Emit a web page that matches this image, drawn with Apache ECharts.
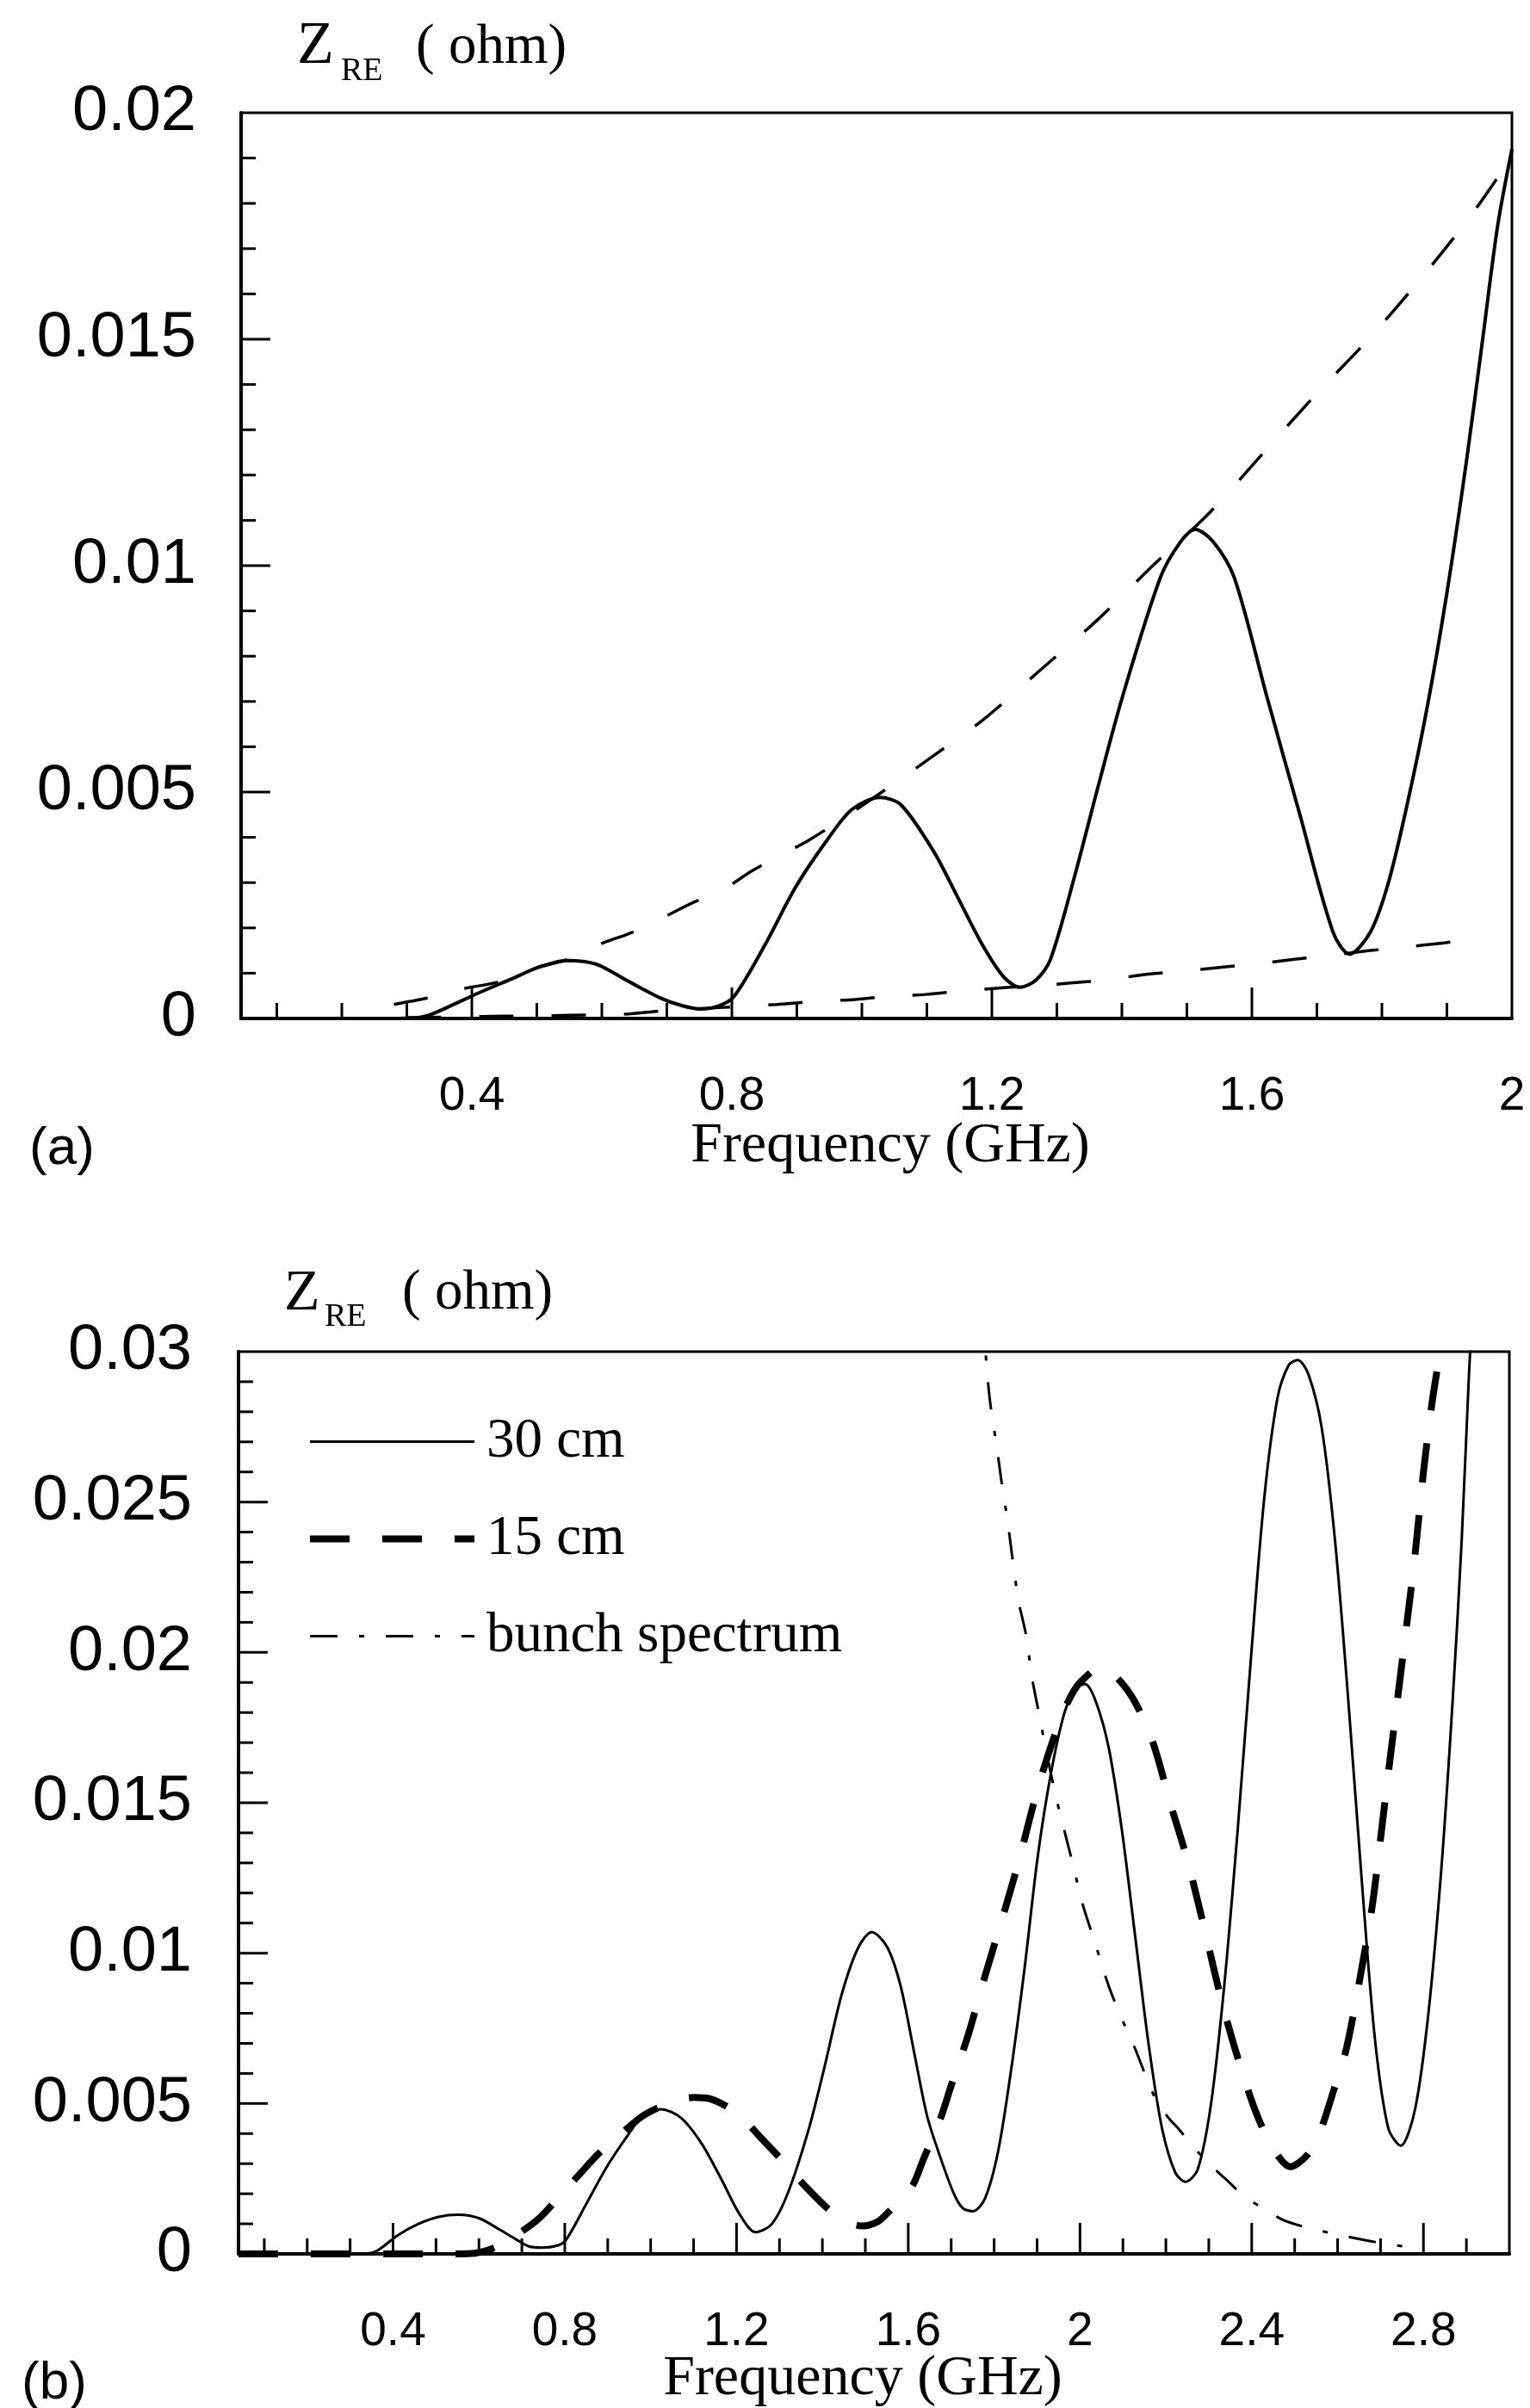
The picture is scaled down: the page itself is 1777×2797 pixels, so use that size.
<!DOCTYPE html>
<html>
<head>
<meta charset="utf-8">
<script src="https://cdn.jsdelivr.net/npm/echarts@6/dist/echarts.min.js"></script>
<style>
html,body{margin:0;padding:0;background:#fff;}
#chart{width:1777px;height:2797px;}
</style>
</head>
<body>
<div id="chart"></div>
<script>
// ---------- tick labels ----------
const xMajorA = [0.4, 0.8, 1.2, 1.6, 2];
const xMinorA = [0.1,0.2,0.3,0.5,0.6,0.7,0.9,1.0,1.1,1.3,1.4,1.5,1.7,1.8,1.9];
const xMajorB = [0.4, 0.8, 1.2, 1.6, 2, 2.4, 2.8];
const xMinorB = [0.1,0.2,0.3,0.5,0.6,0.7,0.9,1.0,1.1,1.3,1.4,1.5,1.7,1.8,1.9,2.1,2.2,2.3,2.5,2.6,2.7,2.9];
const yMajorA = [0, 0.005, 0.01, 0.015, 0.02];
const yMajorB = [0, 0.005, 0.01, 0.015, 0.02, 0.025, 0.03];
const yMinorStep = 0.001;

// ---------- panel (a): frequency (GHz), Z_RE (ohm) ----------
const zA30 = [[0.045,0],[0.25,0],[0.31,0.00001],[0.335,0.00008],[0.363,0.00025],[0.413,0.00058],[0.464,0.00089],[0.502,0.00113],[0.546,0.00128],[0.591,0.0012],[0.641,0.00082],[0.692,0.00044],[0.724,0.00028],[0.752,0.00021],[0.78,0.00028],[0.803,0.00048],[0.85,0.0016],[0.898,0.0029],[0.947,0.00395],[0.985,0.00462],[1.028,0.00488],[1.06,0.00472],[1.11,0.0037],[1.148,0.00266],[1.186,0.00161],[1.218,0.00092],[1.243,0.00069],[1.268,0.00085],[1.29,0.0013],[1.328,0.00318],[1.363,0.0051],[1.401,0.00711],[1.459,0.00973],[1.49,0.01052],[1.513,0.0108],[1.541,0.01052],[1.573,0.00973],[1.623,0.00711],[1.674,0.00449],[1.725,0.0019],[1.75,0.00142],[1.782,0.0019],[1.81,0.003],[1.84,0.0048],[1.87,0.0069],[1.9,0.0094],[1.93,0.0123],[1.955,0.015],[1.978,0.0175],[2.0,0.0192]];
const envUpperA = [[0.28,0.00031],[0.331,0.00045],[0.388,0.00066],[0.439,0.0008],[0.5,0.00112],[0.546,0.0013],[0.597,0.00164],[0.648,0.00191],[0.692,0.00221],[0.736,0.00253],[0.787,0.00285],[0.831,0.00326],[0.876,0.00361],[0.92,0.00395],[0.99,0.0046],[1.059,0.00528],[1.11,0.0058],[1.186,0.00659],[1.275,0.0077],[1.363,0.00881],[1.452,0.01006],[1.535,0.01117],[1.617,0.01248],[1.699,0.01379],[1.782,0.01504],[1.864,0.01641],[1.94,0.01779],[1.997,0.01897]];
const envLowerA = [[0.3,0.00002],[0.45,0.00005],[0.55,0.00007],[0.641,0.0001],[0.692,0.00017],[0.78,0.00024],[0.869,0.00031],[0.92,0.00037],[0.99,0.00042],[1.04,0.00049],[1.098,0.00053],[1.148,0.0006],[1.218,0.00068],[1.268,0.00072],[1.325,0.00079],[1.376,0.00085],[1.44,0.00098],[1.49,0.00104],[1.553,0.00113],[1.604,0.0012],[1.668,0.00131],[1.718,0.00139],[1.782,0.0015],[1.832,0.00157],[1.896,0.00167],[1.953,0.00177]];

// ---------- panel (b) ----------
const zB30 = [[0.04,0],[0.2,0],[0.33,0.00001],[0.362,0.0001],[0.41,0.00061],[0.458,0.00099],[0.506,0.00123],[0.553,0.0013],[0.601,0.00118],[0.649,0.0008],[0.688,0.00047],[0.716,0.00025],[0.745,0.00021],[0.783,0.00028],[0.803,0.00047],[0.85,0.00166],[0.898,0.0029],[0.947,0.00395],[0.985,0.00464],[1.023,0.00481],[1.071,0.00452],[1.119,0.00366],[1.167,0.00242],[1.205,0.00137],[1.244,0.00072],[1.282,0.00099],[1.32,0.00204],[1.368,0.00414],[1.407,0.00634],[1.445,0.00863],[1.483,0.01017],[1.515,0.0107],[1.551,0.0102],[1.582,0.00892],[1.613,0.00675],[1.644,0.00458],[1.675,0.0032],[1.706,0.00201],[1.727,0.00152],[1.75,0.00142],[1.778,0.00182],[1.809,0.00339],[1.84,0.00616],[1.871,0.00951],[1.902,0.01326],[1.933,0.01603],[1.964,0.018],[1.99,0.01879],[2.011,0.01895],[2.036,0.0184],[2.067,0.01682],[2.098,0.01405],[2.129,0.0105],[2.16,0.00695],[2.191,0.00418],[2.222,0.0027],[2.246,0.0024],[2.274,0.0028],[2.305,0.00497],[2.336,0.00892],[2.367,0.01405],[2.398,0.01978],[2.429,0.02511],[2.46,0.02846],[2.486,0.02955],[2.507,0.02972],[2.532,0.02925],[2.563,0.02747],[2.594,0.02372],[2.625,0.01839],[2.656,0.01247],[2.687,0.00714],[2.718,0.00418],[2.747,0.0036],[2.78,0.00478],[2.811,0.00793],[2.842,0.01287],[2.868,0.0184],[2.889,0.02372],[2.906,0.02925],[2.92,0.033]];
const zB15 = [[0.04,0],[0.55,0],[0.59,0.00002],[0.62,0.00012],[0.65,0.0003],[0.68,0.00055],[0.74,0.00118],[0.79,0.00195],[0.83,0.00258],[0.88,0.00335],[0.93,0.00398],[0.985,0.00462],[1.05,0.00505],[1.1,0.0052],[1.14,0.00515],[1.2,0.00468],[1.27,0.00366],[1.31,0.00305],[1.36,0.00225],[1.417,0.00145],[1.46,0.00105],[1.494,0.00093],[1.53,0.00108],[1.556,0.00142],[1.59,0.0019],[1.613,0.00235],[1.634,0.0031],[1.675,0.0045],[1.7,0.0056],[1.74,0.0073],[1.78,0.0093],[1.82,0.0112],[1.86,0.0132],[1.9,0.0154],[1.94,0.0172],[1.97,0.0183],[2.0,0.019],[2.05,0.0195],[2.09,0.0191],[2.13,0.0183],[2.17,0.017],[2.21,0.015],[2.25,0.0131],[2.29,0.0108],[2.33,0.0084],[2.37,0.0064],[2.41,0.0047],[2.45,0.0035],[2.49,0.0029],[2.53,0.0033],[2.56,0.0041],[2.59,0.0054],[2.62,0.0068],[2.65,0.009],[2.68,0.0115],[2.7,0.0138],[2.72,0.0162],[2.74,0.0185],[2.76,0.0208],[2.78,0.0232],[2.8,0.026],[2.82,0.0283],[2.84,0.0302],[2.86,0.033]];
const bunchB = [[1.775,0.0315],[1.78,0.03],[1.79,0.0284],[1.806,0.02685],[1.817,0.0257],[1.832,0.0243],[1.842,0.0232],[1.857,0.0217],[1.874,0.0206],[1.889,0.0191],[1.904,0.018],[1.923,0.0166],[1.944,0.0152],[1.964,0.01405],[1.985,0.01287],[2.005,0.01168],[2.036,0.0103],[2.067,0.0089],[2.098,0.0078],[2.129,0.0068],[2.171,0.0053],[2.202,0.0046],[2.233,0.0041],[2.274,0.0034],[2.315,0.0028],[2.346,0.0024],[2.383,0.0019],[2.429,0.0015],[2.47,0.00115],[2.522,0.0009],[2.594,0.00066],[2.677,0.00042],[2.739,0.00028],[2.796,0.00016]];

// ---------- styling helpers ----------
const SANS = '"Liberation Sans", Arial, sans-serif';
const SERIF = '"Liberation Serif", "Times New Roman", serif';
const BLACK = '#000';
const X_MIN_A = 0.045, X_MAX_A = 2.0, X_MIN_B = 0.04, X_MAX_B = 3.0;

function xAxisFor(grid, min, max, majors) {
  return {
    type: 'value', gridIndex: grid, min: min, max: max, position: 'bottom',
    axisLine: { show: true, onZero: false, lineStyle: { color: BLACK, width: 4 } },
    axisTick: { show: false, customValues: majors },
    axisLabel: { show: true, customValues: majors, margin: 63, color: BLACK, fontFamily: SANS, fontSize: 55 },
    splitLine: { show: false }
  };
}
function yAxisFor(grid, max, margin) {
  return {
    type: 'value', gridIndex: grid, min: 0, max: max, interval: 0.005, position: 'left',
    axisLine: { show: true, onZero: false, lineStyle: { color: BLACK, width: 4 } },
    axisTick: { show: false },
    minorTick: { show: false },
    axisLabel: { margin: margin, color: BLACK, fontFamily: SANS, fontSize: 74,
      formatter: v => String(parseFloat(Number(v).toFixed(6))) },
    splitLine: { show: false }, minorSplitLine: { show: false }
  };
}
function lineSeries(name, xi, yi, data, width, type) {
  return {
    name: name, type: 'line', xAxisIndex: xi, yAxisIndex: yi, data: data,
    showSymbol: false, symbol: 'none', smooth: 0.3, clip: true, silent: true,
    lineStyle: { color: BLACK, width: width, type: type, cap: 'butt' },
    itemStyle: { color: BLACK }
  };
}
function txt(x, y, text, size, family, align) {
  return {
    type: 'text', x: x, y: y, silent: true,
    style: { text: text, fill: BLACK, fontSize: size, fontFamily: family,
      align: align || 'left', textAlign: align || 'left',
      verticalAlign: 'middle', textVerticalAlign: 'middle' }
  };
}

const texts = [
  txt(345, 55, 'Z', 70, SERIF),
  txt(396, 83, 'RE', 38, SERIF),
  txt(483, 56, '( ohm)', 65, SERIF),
  txt(1034, 1332, 'Frequency (GHz)', 66, SERIF, 'center'),
  txt(34, 1335, '(a)', 62, SANS),
  txt(330, 1503, 'Z', 68, SERIF),
  txt(377, 1530, 'RE', 38, SERIF),
  txt(467, 1503, '( ohm)', 65, SERIF),
  txt(1002, 2764, 'Frequency (GHz)', 66, SERIF, 'center'),
  txt(25, 2769, '(b)', 62, SANS)
];

const option = {
  animation: false,
  backgroundColor: '#fff',
  grid: [
    { left: 280, top: 131, width: 1476, height: 1052, show: true, borderColor: BLACK, borderWidth: 3, backgroundColor: 'transparent' },
    { left: 277, top: 1570, width: 1476, height: 1048, show: true, borderColor: BLACK, borderWidth: 3, backgroundColor: 'transparent' }
  ],
  xAxis: [xAxisFor(0, X_MIN_A, X_MAX_A, xMajorA), xAxisFor(1, X_MIN_B, X_MAX_B, xMajorB)],
  yAxis: [yAxisFor(0, 0.02, 52), yAxisFor(1, 0.03, 54)],
  legend: {
    show: true, orient: 'vertical', left: 351, top: 1637,
    itemWidth: 191, itemHeight: 20, itemGap: 48, selectedMode: false,
    data: ['30 cm', '15 cm', 'bunch spectrum'],
    lineStyle: { width: 'inherit' },
    itemStyle: { opacity: 0 },
    textStyle: { color: BLACK, fontFamily: SERIF, fontSize: 65, lineHeight: 62, padding: [0, 0, 0, 9] }
  },
  series: [
    lineSeries('a30', 0, 0, zA30, 4, 'solid'),
    lineSeries('aUpper', 0, 0, envUpperA, 3.5, [40, 44]),
    lineSeries('aLower', 0, 0, envLowerA, 3.5, [40, 44]),
    lineSeries('30 cm', 1, 1, zB30, 3, 'solid'),
    lineSeries('15 cm', 1, 1, zB15, 8, [46, 38]),
    lineSeries('bunch spectrum', 1, 1, bunchB, 3, [32, 25, 6, 25])
  ],
  graphic: texts
};

const chart = echarts.init(document.getElementById('chart'), null, { renderer: 'canvas', width: 1777, height: 2797 });
chart.setOption(option);

// ---------- inward ticks, placed through the axes' own scales ----------
function buildTicks() {
  const els = [];
  const seg = (p, dx, dy) => els.push({
    type: 'line', silent: true, z: 10,
    shape: { x1: p[0], y1: p[1], x2: p[0] + dx, y2: p[1] + dy },
    style: { stroke: BLACK, lineWidth: 3 }
  });
  const px = (gi, xv, yv) => chart.convertToPixel({ xAxisIndex: gi, yAxisIndex: gi }, [xv, yv]);
  // panel (a)
  xMajorA.forEach(v => { if (v < X_MAX_A) seg(px(0, v, 0), 0, -36); });
  xMinorA.forEach(v => seg(px(0, v, 0), 0, -18));
  for (let k = 1; k < Math.round(0.02 / yMinorStep); k++) {
    const v = k * yMinorStep;
    const major = yMajorA.some(m => Math.abs(m - v) < 1e-9);
    seg(px(0, X_MIN_A, v), major ? 34 : 17, 0);
  }
  // panel (b)
  xMajorB.forEach(v => { if (v < X_MAX_B) seg(px(1, v, 0), 0, -36); });
  xMinorB.forEach(v => seg(px(1, v, 0), 0, -18));
  for (let k = 1; k < Math.round(0.03 / yMinorStep); k++) {
    const v = k * yMinorStep;
    const major = yMajorB.some(m => Math.abs(m - v) < 1e-9);
    seg(px(1, X_MIN_B, v), major ? 34 : 17, 0);
  }
  return els;
}
chart.setOption({ graphic: texts.concat(buildTicks()) });
</script>
</body>
</html>
